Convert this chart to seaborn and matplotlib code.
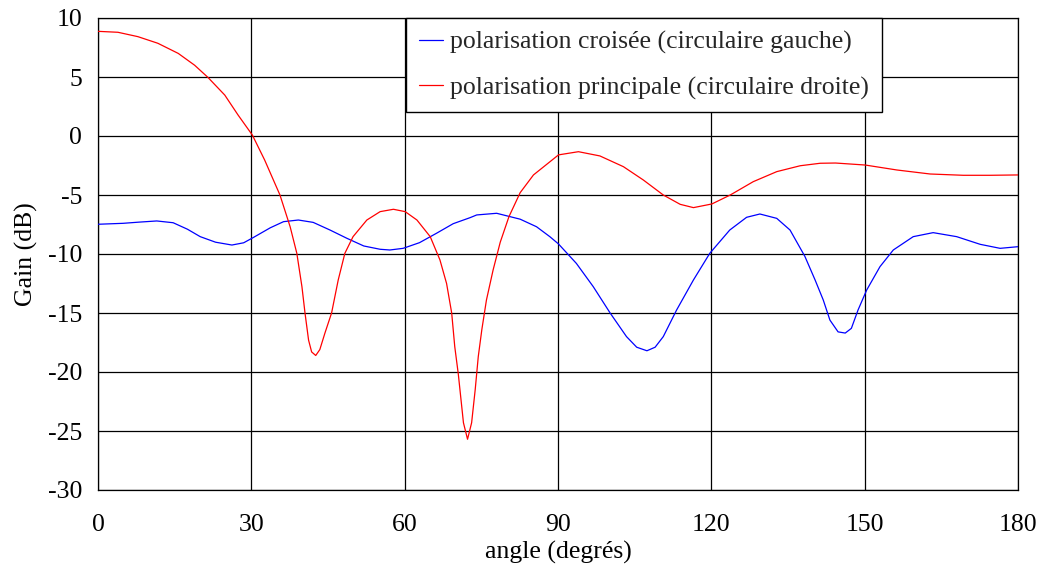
import numpy as np
import pandas as pd
import matplotlib
matplotlib.use("Agg")
import matplotlib.pyplot as plt
import seaborn as sns

# Radiation pattern: gain vs. angle for both polarisations
cross_label = "polarisation croisée (circulaire gauche)"
main_label = "polarisation principale (circulaire droite)"

cross_angle = [0, 4.9, 8, 11.5, 14.7, 17.5, 20, 23, 26.2, 28.5, 30.4, 33.7, 36.3, 39.2,
               42.1, 45.4, 48.7, 52.0, 55.2, 57.1, 59.7, 62.9, 66.2, 69.5, 72.8, 74.1,
               78.0, 82.6, 85.8, 88.4, 90.1, 93.6, 96.9, 100.2, 103.4, 105.4, 107.4,
               109.0, 110.6, 113.2, 116.5, 119.7, 123.6, 126.9, 129.5, 132.8, 135.4,
               138.3, 140.3, 141.9, 143.2, 144.8, 146.2, 147.4, 148.7, 150.4, 153.0,
               155.6, 159.5, 163.4, 168.0, 172.6, 176.5, 180]
cross_gain = [-7.48, -7.4, -7.3, -7.2, -7.35, -7.9, -8.53, -9.0, -9.24, -9.05, -8.6, -7.78,
              -7.26, -7.12, -7.32, -7.97, -8.67, -9.32, -9.6, -9.66, -9.52, -9.04, -8.25,
              -7.43, -6.92, -6.69, -6.55, -7.05, -7.69, -8.53, -9.15, -10.8, -12.77,
              -15.0, -17.0, -17.9, -18.2, -17.9, -17.0, -14.75, -12.2, -9.94, -7.97,
              -6.89, -6.61, -6.98, -7.97, -10.2, -12.2, -13.9, -15.6, -16.6, -16.7,
              -16.3, -14.75, -13.05, -11.07, -9.66, -8.53, -8.19, -8.53, -9.18, -9.52,
              -9.38]

main_angle = [0, 3.9, 7.8, 11.7, 15.7, 18.9, 21.5, 24.8, 27.4, 30.2, 32.6, 35.6, 37.6,
              38.9, 39.9, 40.5, 41.2, 41.8, 42.6, 43.4, 44.4, 45.7, 47.0, 48.3, 49.9,
              52.6, 55.2, 57.8, 60.1, 62.4, 65.0, 66.9, 68.2, 69.2, 69.8, 70.5, 71.5,
              72.3, 73.1, 73.8, 74.4, 75.1, 76.0, 77.3, 78.7, 80.4, 82.6, 85.2, 90.1,
              94.0, 98.2, 102.8, 106.7, 110.6, 113.9, 116.5, 120.1, 123.7, 128.2, 132.8,
              137.4, 141.3, 144.3, 150.1, 156.3, 162.8, 169.3, 174.5, 180]
main_gain = [8.87, 8.79, 8.42, 7.86, 7.0, 6.0, 4.97, 3.47, 1.78, 0.08, -2.03, -5.0, -7.7,
             -9.94, -12.77, -15.0, -17.3, -18.3, -18.6, -18.1, -16.7, -15.0, -12.2, -9.94,
             -8.53, -7.12, -6.41, -6.21, -6.41, -7.12, -8.53, -10.5, -12.5, -15.0, -17.85,
             -20.2, -24.3, -25.7, -24.3, -21.5, -18.7, -16.4, -13.9, -11.36, -9.0, -6.84,
             -4.8, -3.3, -1.6, -1.33, -1.69, -2.6, -3.73, -5.0, -5.79, -6.07, -5.76, -5.0,
             -3.87, -3.02, -2.52, -2.31, -2.29, -2.46, -2.88, -3.22, -3.33, -3.33, -3.3]

x_ticks = [0, 30, 60, 90, 120, 150, 180]
y_ticks = [10, 5, 0, -5, -10, -15, -20, -25, -30]

df = pd.concat([
    pd.DataFrame({"angle": cross_angle, "gain": cross_gain, "serie": cross_label}),
    pd.DataFrame({"angle": main_angle, "gain": main_gain, "serie": main_label}),
], ignore_index=True)

sns.set_theme(style="white")
plt.rcParams["font.family"] = ["Liberation Serif", "DejaVu Serif"]
plt.rcParams["lines.solid_joinstyle"] = "round"

fig = plt.figure(figsize=(10.41, 5.74), dpi=100)
ax = fig.add_axes([98 / 1041, 1 - 490 / 574, 920 / 1041, 472 / 574])

sns.lineplot(data=df, x="angle", y="gain", hue="serie", sort=False, estimator=None,
             palette={cross_label: "#0000ff", main_label: "#ff0000"},
             linewidth=0.9, ax=ax, zorder=3)

ax.set_xlim(0, 180)
ax.set_ylim(-30, 10)
ax.set_xticks(x_ticks)
ax.set_yticks(y_ticks)
ax.set_xticklabels([str(v) for v in x_ticks])
ax.set_yticklabels([str(v) for v in y_ticks])
ax.grid(True, color="black", linewidth=0.9)
ax.set_axisbelow(True)
for s in ax.spines.values():
    s.set_color("black")
    s.set_linewidth(0.9)
ax.tick_params(axis="both", direction="out", length=4.5, width=0.9, color="black",
               labelsize=18.5, labelcolor="black")
ax.tick_params(axis="x", pad=13)
ax.tick_params(axis="y", pad=7)
ax.set_xlabel("angle (degrés)", fontsize=18.5, color="black", labelpad=3)
ax.set_ylabel("Gain (dB)", fontsize=18.5, color="black", labelpad=7)

leg = ax.legend(loc="upper left", bbox_to_anchor=(0.335, 1.0), fontsize=18.5,
                frameon=True, fancybox=False, edgecolor="black", framealpha=1,
                handlelength=0.95, handletextpad=0.25, labelspacing=0.85,
                borderpad=0.5, borderaxespad=0)
leg.get_frame().set_linewidth(1.0)
leg.set_zorder(5)

fig.savefig("out.png", dpi=100, facecolor="white")
